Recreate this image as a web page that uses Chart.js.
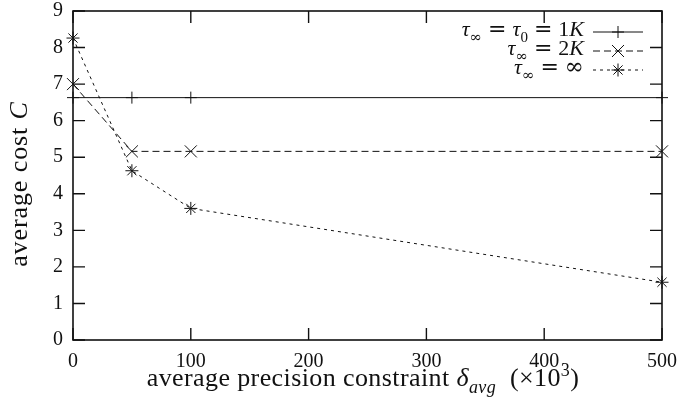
<!DOCTYPE html>
<html>
<head>
<meta charset="utf-8">
<script src="https://cdn.jsdelivr.net/npm/chart.js@4.4.1/dist/chart.umd.min.js"></script>
<style>
  html, body { margin: 0; padding: 0; background: #fff; }
  #wrap { width: 679px; height: 406px; }
</style>
</head>
<body>
<div id="wrap"><canvas id="costChart" width="679" height="406"></canvas></div>
<script>
// values
const xValues = [0, 50, 100, 500];
const cost1K = [6.63, 6.63, 6.63, 6.63];
const cost2K = [7.0, 5.16, 5.16, 5.16];
const costInf = [8.26, 4.63, 3.60, 1.58];
const xTicks = [0, 100, 200, 300, 400, 500];
const yTicks = [0, 1, 2, 3, 4, 5, 6, 7, 8, 9];

const serif = '"Liberation Serif", "DejaVu Serif", serif';
const mathFont = '"DejaVu Serif", serif';
const ink = "#111";

function toPoints(ys) {
    return xValues.map((x, i) => ({ x: x, y: ys[i] }));
}

function partFont(p, size) {
    let s = (p.sub || p.sup) ? Math.round(size * 0.7) : size;
    if (p.k) s = Math.round(s * p.k);
    return (p.it ? "italic " : "") + s + "px " + (p.m ? mathFont : serif);
}

// draws a row of text pieces (italic, subscript, superscript, gaps)
function drawRich(ctx, parts, x, y, align, size, spacing) {
    ctx.letterSpacing = (spacing || 0) + "px";
    const widths = parts.map(p => {
        if (p.gap) return p.gap;
        ctx.font = partFont(p, size);
        return ctx.measureText(p.t).width;
    });
    const total = widths.reduce((a, b) => a + b, 0);
    let cx = x;
    if (align === "right") cx = x - total;
    if (align === "center") cx = x - total / 2;
    ctx.textAlign = "left";
    ctx.textBaseline = "alphabetic";
    parts.forEach((p, i) => {
        if (!p.gap) {
            ctx.font = partFont(p, size);
            let dy = 0;
            if (p.sub) dy = size * 0.28;
            if (p.sup) dy = -size * 0.38;
            ctx.fillText(p.t, cx, y + dy);
        }
        cx += widths[i];
    });
    ctx.letterSpacing = "0px";
}

const eq = [{ gap: 6 }, { t: "=", m: true }, { gap: 6 }];
const tauInf = [{ t: "τ", it: true }, { t: "∞", sub: true, m: true }];
const legendRows = [
    [...tauInf, ...eq, { t: "τ", it: true }, { t: "0", sub: true }, ...eq, { t: "1" }, { t: "K", it: true }],
    [...tauInf, ...eq, { t: "2" }, { t: "K", it: true }],
    [...tauInf, ...eq, { t: "∞", m: true, k: 1.05 }]
];

const xTitle = [
    { t: "average precision constraint " }, { t: "δ", it: true }, { t: "avg", it: true, sub: true },
    { t: "  (×10" }, { t: "3", sup: true }, { t: ")" }
];
const yTitle = [{ t: "average cost " }, { t: "C", it: true }];

const framePlugin = {
    id: "frame",
    beforeDatasetsDraw(chart) {
        const { ctx, chartArea: a, scales } = chart;
        ctx.save();
        ctx.strokeStyle = ink;
        ctx.lineWidth = 1.6;
        ctx.strokeRect(a.left, a.top, a.right - a.left, a.bottom - a.top);
        ctx.lineWidth = 1.4;
        const len = 12;
        ctx.beginPath();
        yTicks.forEach(v => {
            const py = scales.y.getPixelForValue(v);
            ctx.moveTo(a.left, py); ctx.lineTo(a.left + len, py);
            ctx.moveTo(a.right, py); ctx.lineTo(a.right - len, py);
        });
        xTicks.forEach(v => {
            const px = scales.x.getPixelForValue(v);
            ctx.moveTo(px, a.bottom); ctx.lineTo(px, a.bottom - len);
            ctx.moveTo(px, a.top); ctx.lineTo(px, a.top + len);
        });
        ctx.stroke();
        ctx.restore();
    },
    afterDraw(chart) {
        const { ctx } = chart;
        ctx.save();
        ctx.fillStyle = ink;

        // legend, text right aligned with the sample line after it
        const rowY = [32, 51, 70];
        const textRight = 584, lineL = 593, lineR = 643;
        chart.data.datasets.forEach((ds, i) => {
            drawRich(ctx, legendRows[i], textRight, rowY[i] + 4, "right", 22);
            ctx.strokeStyle = ds.borderColor;
            ctx.lineWidth = ds.borderWidth;
            ctx.setLineDash(ds.borderDash || []);
            ctx.beginPath();
            ctx.moveTo(lineL, rowY[i]);
            ctx.lineTo(lineR, rowY[i]);
            ctx.stroke();
            ctx.setLineDash([]);
            Chart.helpers.drawPoint(ctx, {
                pointStyle: ds.pointStyle,
                radius: ds.pointRadius,
                rotation: 0,
                borderWidth: 1
            }, (lineL + lineR) / 2, rowY[i]);
        });

        // axis titles
        drawRich(ctx, xTitle, 363, 386, "center", 26, 0.4);
        ctx.translate(27, 184);
        ctx.rotate(-Math.PI / 2);
        drawRich(ctx, yTitle, 0, 0, "center", 26, 0.9);
        ctx.restore();
    }
};

const baseSet = {
    borderColor: ink,
    backgroundColor: ink,
    borderWidth: 1,
    pointBorderColor: ink,
    pointBackgroundColor: "transparent",
    pointBorderWidth: 1,
    clip: false,
    tension: 0
};

function noOverflow(s) {
    s.paddingTop = 0;
    s.paddingBottom = 0;
    s.paddingLeft = 0;
    s.paddingRight = 0;
}

new Chart(document.getElementById("costChart"), {
    type: "line",
    data: {
        datasets: [
            { ...baseSet, label: "tau = tau0 = 1K", data: toPoints(cost1K), pointStyle: "cross", pointRadius: 6 },
            { ...baseSet, label: "tau = 2K", data: toPoints(cost2K), pointStyle: "crossRot", pointRadius: 8.5, borderDash: [7, 4] },
            { ...baseSet, label: "tau = inf", data: toPoints(costInf), pointStyle: "star", pointRadius: 6.5, borderDash: [3, 4] }
        ]
    },
    plugins: [framePlugin],
    options: {
        responsive: false,
        animation: false,
        events: [],
        layout: { padding: { top: 11, right: 17, bottom: 0, left: 0 } },
        plugins: { legend: { display: false }, tooltip: { enabled: false } },
        scales: {
            x: {
                type: "linear",
                min: 0,
                max: 500,
                afterBuildTicks: s => { s.ticks = xTicks.map(v => ({ value: v })); },
                afterFit: s => { s.height = 66; noOverflow(s); },
                grid: { display: false, drawTicks: false },
                border: { display: false },
                ticks: { color: ink, padding: 10, maxRotation: 0, font: { family: serif, size: 20 } }
            },
            y: {
                min: 0,
                max: 9,
                afterBuildTicks: s => { s.ticks = yTicks.map(v => ({ value: v })); },
                afterFit: s => { s.width = 73; noOverflow(s); },
                grid: { display: false, drawTicks: false },
                border: { display: false },
                ticks: { color: ink, padding: 10, font: { family: serif, size: 20 } }
            }
        }
    }
});
</script>
</body>
</html>
